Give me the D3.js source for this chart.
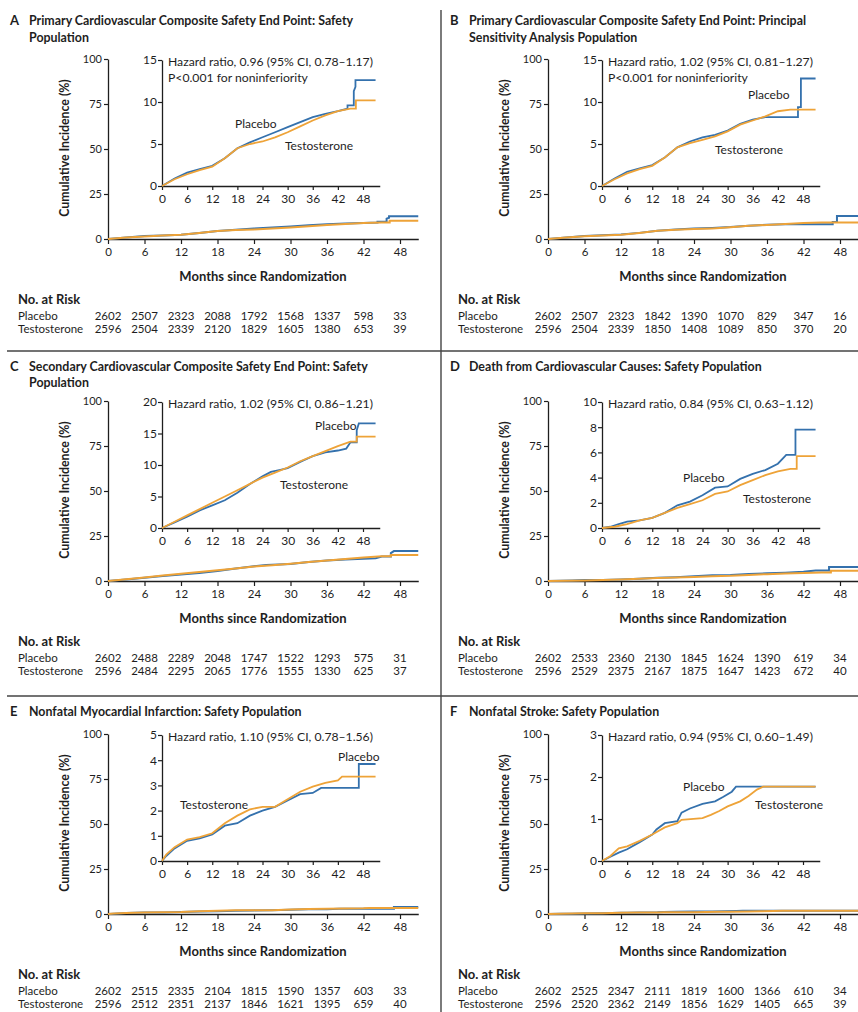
<!DOCTYPE html>
<html><head><meta charset="utf-8">
<script src="https://cdn.jsdelivr.net/npm/d3@7"></script>
<style>
body{margin:0;background:#fff;}
svg{display:block;font-family:Lato,"Open Sans",sans-serif;}
</style></head><body>
<svg id="chart" width="858" height="1012"></svg>
<script>
// ---------- DATA ----------
const monthTicks = [0, 6, 12, 18, 24, 30, 36, 42, 48];
const mainYTicks = [0, 25, 50, 75, 100];
const panelLetters = ["A", "B", "C", "D", "E", "F"];
const panelTitles = [
  ["Primary Cardiovascular Composite Safety End Point: Safety", "Population"],
  ["Primary Cardiovascular Composite Safety End Point: Principal", "Sensitivity Analysis Population"],
  ["Secondary Cardiovascular Composite Safety End Point: Safety", "Population"],
  ["Death from Cardiovascular Causes: Safety Population"],
  ["Nonfatal Myocardial Infarction: Safety Population"],
  ["Nonfatal Stroke: Safety Population"]
];
const hazardTexts = [
  ["Hazard ratio, 0.96 (95% CI, 0.78\u20131.17)", "P<0.001 for noninferiority"],
  ["Hazard ratio, 1.02 (95% CI, 0.81\u20131.27)", "P<0.001 for noninferiority"],
  ["Hazard ratio, 1.02 (95% CI, 0.86\u20131.21)"],
  ["Hazard ratio, 0.84 (95% CI, 0.63\u20131.12)"],
  ["Hazard ratio, 1.10 (95% CI, 0.78\u20131.56)"],
  ["Hazard ratio, 0.94 (95% CI, 0.60\u20131.49)"]
];
const insetYTicks = [
  [0, 5, 10, 15],
  [0, 5, 10, 15],
  [0, 5, 10, 15, 20],
  [0, 2, 4, 6, 8, 10],
  [0, 1, 2, 3, 4, 5],
  [0, 1, 2, 3]
];
const seriesNames = ["Placebo", "Testosterone"];

// No. at risk
const riskPlaceboA = [2602, 2507, 2323, 2088, 1792, 1568, 1337, 598, 33];
const riskTestosteroneA = [2596, 2504, 2339, 2120, 1829, 1605, 1380, 653, 39];
const riskPlaceboB = [2602, 2507, 2323, 1842, 1390, 1070, 829, 347, 16];
const riskTestosteroneB = [2596, 2504, 2339, 1850, 1408, 1089, 850, 370, 20];
const riskPlaceboC = [2602, 2488, 2289, 2048, 1747, 1522, 1293, 575, 31];
const riskTestosteroneC = [2596, 2484, 2295, 2065, 1776, 1555, 1330, 625, 37];
const riskPlaceboD = [2602, 2533, 2360, 2130, 1845, 1624, 1390, 619, 34];
const riskTestosteroneD = [2596, 2529, 2375, 2167, 1875, 1647, 1423, 672, 40];
const riskPlaceboE = [2602, 2515, 2335, 2104, 1815, 1590, 1357, 603, 33];
const riskTestosteroneE = [2596, 2512, 2351, 2137, 1846, 1621, 1395, 659, 40];
const riskPlaceboF = [2602, 2525, 2347, 2111, 1819, 1600, 1366, 610, 34];
const riskTestosteroneF = [2596, 2520, 2362, 2149, 1856, 1629, 1405, 665, 39];

// Cumulative incidence (%) [month, value]
const placeboA = [[0,0],[1,0.3],[3,0.9],[6,1.6],[9,2.0],[12,2.4],[15,3.3],[18,4.5],[21,5.2],[24,5.8],[27,6.4],[30,7.0],[33,7.6],[36,8.2],[39,8.6],[42,8.9],[44.3,9.2],[44.3,9.6],[45.8,9.6],[45.8,11.3],[46.2,11.8],[46.2,12.6],[51,12.6]];
const testosteroneA = [[0,0],[3,0.8],[6,1.4],[9,1.9],[12,2.3],[15,3.3],[18,4.5],[21,5.0],[24,5.3],[27,5.8],[30,6.4],[33,7.1],[36,7.8],[39,8.4],[42,8.9],[45,9.2],[46.3,9.2],[46.3,10.2],[51,10.2]];
const placeboB = [[0,0],[3,0.9],[6,1.7],[9,2.1],[12,2.5],[15,3.4],[18,4.6],[21,5.3],[24,5.8],[27,6.1],[30,6.6],[33,7.4],[36,7.9],[39,8.2],[46.8,8.2],[46.8,9.4],[47.5,9.4],[47.5,12.8],[51,12.8]];
const testosteroneB = [[0,0],[3,0.8],[6,1.5],[9,2.0],[12,2.4],[15,3.4],[18,4.6],[21,5.1],[24,5.5],[27,5.9],[30,6.5],[33,7.3],[36,7.8],[39,8.3],[42,8.9],[45,9.1],[51,9.1]];
const placeboC = [[0,0],[3,0.9],[6,1.8],[9,2.8],[12,3.6],[15,4.4],[18,5.6],[21,7.0],[24,8.2],[26,8.9],[28,9.2],[30,9.5],[33,10.5],[36,11.4],[39,12.0],[42,12.3],[44,12.6],[45,13.6],[46.5,13.6],[46.5,15.5],[47,16.6],[51,16.6]];
const testosteroneC = [[0,0],[3,1.0],[6,2.0],[9,3.0],[12,4.0],[15,5.0],[18,6.0],[21,7.0],[24,8.0],[27,8.8],[30,9.6],[33,10.6],[36,11.4],[39,12.2],[42,13.0],[45,13.7],[46.5,13.7],[46.5,14.5],[51,14.5]];
const placeboD = [[0,0],[2,0.1],[4,0.3],[6,0.5],[9,0.6],[12,0.8],[15,1.2],[18,1.8],[21,2.1],[24,2.6],[27,3.2],[30,3.3],[33,3.9],[36,4.3],[39,4.6],[42,5.1],[44,5.8],[46.2,5.8],[46.2,7.8],[51,7.8]];
const testosteroneD = [[0,0],[3,0.1],[6,0.3],[9,0.6],[12,0.8],[15,1.2],[18,1.6],[21,1.9],[24,2.2],[27,2.7],[30,2.9],[33,3.4],[36,3.8],[39,4.2],[42,4.5],[45,4.7],[46.5,4.7],[46.5,5.7],[51,5.7]];
const placeboE = [[0,0],[1,0.2],[3,0.5],[6,0.8],[9,0.9],[12,1.05],[15,1.4],[18,1.5],[21,1.8],[24,2.0],[27,2.15],[30,2.4],[33,2.65],[36,2.7],[38,2.9],[47,2.9],[47,3.85],[51,3.85]];
const testosteroneE = [[0,0],[1,0.25],[3,0.55],[6,0.85],[9,0.95],[12,1.1],[15,1.5],[18,1.8],[21,2.05],[24,2.15],[27,2.15],[30,2.45],[33,2.75],[36,2.95],[39,3.1],[42,3.2],[43,3.35],[51,3.35]];
const placeboF = [[0,0],[2,0.1],[4,0.2],[6,0.28],[9,0.45],[12,0.63],[13,0.75],[15,0.9],[18,0.95],[19,1.15],[21,1.25],[24,1.36],[27,1.42],[29,1.53],[31,1.65],[32,1.77],[51,1.77]];
const testosteroneF = [[0,0],[2,0.12],[4,0.3],[6,0.35],[9,0.48],[12,0.63],[15,0.8],[18,0.9],[19,0.98],[24,1.02],[26,1.1],[28,1.19],[30,1.3],[33,1.42],[35,1.55],[37,1.7],[38.5,1.77],[51,1.77]];

const placeboSeries = [placeboA, placeboB, placeboC, placeboD, placeboE, placeboF];
const testosteroneSeries = [testosteroneA, testosteroneB, testosteroneC, testosteroneD, testosteroneE, testosteroneF];
const riskPlacebo = [riskPlaceboA, riskPlaceboB, riskPlaceboC, riskPlaceboD, riskPlaceboE, riskPlaceboF];
const riskTestosterone = [riskTestosteroneA, riskTestosteroneB, riskTestosteroneC, riskTestosteroneD, riskTestosteroneE, riskTestosteroneF];

// ---------- LAYOUT ----------
const COL_BLUE = "#3471ad";
const COL_ORANGE = "#eea338";
const INK = "#1e1e1e";
const layout = [
  {dx:0,   dy:0,   tY:[25,42], pl:[235,128], te:[285,150]},
  {dx:440, dy:0,   tY:[25,42], pl:[308,99],  te:[275,154]},
  {dx:0,   dy:342, tY:[29,45], pl:[315,88],  te:[280,147]},
  {dx:440, dy:342, tY:[29],    pl:[243,140], te:[303,161]},
  {dx:0,   dy:675, tY:[41],    pl:[338,86],  te:[180,134]},
  {dx:440, dy:675, tY:[41],    pl:[243,116], te:[315,134]}
];

const svg = d3.select("#chart");

// separators
svg.append("line").attr("x1",441).attr("x2",441).attr("y1",10).attr("y2",1012)
  .attr("stroke","#444").attr("stroke-width",1.4);
[351, 696].forEach(yy => svg.append("line").attr("x1",7).attr("x2",858).attr("y1",yy).attr("y2",yy)
  .attr("stroke","#444").attr("stroke-width",1.4));

function styleAxis(sel, fs) {
  sel.selectAll("path.domain").attr("stroke", INK).attr("stroke-width", 1.3);
  sel.selectAll(".tick line").attr("stroke", INK).attr("stroke-width", 1.2);
  sel.selectAll(".tick text").attr("fill", INK).style("font-size", fs + "px").style("font-family", "Lato, sans-serif");
}
const fmt = d3.format("d");

panelLetters.forEach((letter, i) => {
  const L = layout[i];
  const g = svg.append("g").attr("transform", `translate(${L.dx},${L.dy})`);

  // title
  g.append("text").attr("x", 10).attr("y", L.tY[0]).text(letter)
    .attr("fill", INK).style("font-weight", "bold").style("font-size", "13px");
  panelTitles[i].forEach((t, k) => {
    g.append("text").attr("x", 29).attr("y", L.tY[k]).text(t)
      .attr("fill", INK).style("font-weight", "bold").style("font-size", "12.4px");
  });

  // main scales
  const x = d3.scaleLinear().domain([0, 51]).range([108, 108 + 51 * (292 / 48)]);
  const y = d3.scaleLinear().domain([0, 100]).range([239, 59]);

  const gx = g.append("g").attr("transform", "translate(0,239)")
    .call(d3.axisBottom(x).tickValues(monthTicks).tickFormat(fmt).tickSize(5).tickPadding(4).tickSizeOuter(0));
  styleAxis(gx, 11.5);
  const gy = g.append("g").attr("transform", "translate(108,0)")
    .call(d3.axisLeft(y).tickValues(mainYTicks).tickFormat(fmt).tickSize(4).tickPadding(2).tickSizeOuter(0));
  styleAxis(gy, 11);

  g.append("text").attr("transform", "translate(69,148) rotate(-90)").attr("text-anchor", "middle")
    .text("Cumulative Incidence (%)").attr("fill", INK).style("font-weight", "bold").style("font-size", "12.3px");
  g.append("text").attr("x", 263).attr("y", 281).attr("text-anchor", "middle")
    .text("Months since Randomization").attr("fill", INK).style("font-weight", "bold").style("font-size", "13px");

  const line = d3.line().x(d => x(d[0])).y(d => y(d[1]));
  g.append("path").datum(placeboSeries[i]).attr("d", line).attr("fill", "none")
    .attr("stroke", COL_BLUE).attr("stroke-width", 2);
  g.append("path").datum(testosteroneSeries[i]).attr("d", line).attr("fill", "none")
    .attr("stroke", COL_ORANGE).attr("stroke-width", 2);

  // inset
  const imax = d3.max(insetYTicks[i]);
  const xi = d3.scaleLinear().domain([0, 52]).range([162, 162 + 52 * (201 / 48)]);
  const yi = d3.scaleLinear().domain([0, imax]).range([186, 60]);
  const gxi = g.append("g").attr("transform", "translate(0,186)")
    .call(d3.axisBottom(xi).tickValues(monthTicks).tickFormat(fmt).tickSize(4).tickPadding(4).tickSizeOuter(0));
  styleAxis(gxi, 12);
  const gyi = g.append("g").attr("transform", "translate(162,0)")
    .call(d3.axisLeft(yi).tickValues(insetYTicks[i]).tickFormat(fmt).tickSize(4).tickPadding(1).tickSizeOuter(0));
  styleAxis(gyi, 12);

  const iline = d3.line().x(d => xi(d[0])).y(d => yi(d[1]));
  g.append("path").datum(placeboSeries[i]).attr("d", iline).attr("fill", "none")
    .attr("stroke", COL_BLUE).attr("stroke-width", 1.8);
  g.append("path").datum(testosteroneSeries[i]).attr("d", iline).attr("fill", "none")
    .attr("stroke", COL_ORANGE).attr("stroke-width", 1.8);

  hazardTexts[i].forEach((t, k) => {
    g.append("text").attr("x", 168).attr("y", 66 + 16 * k).text(t)
      .attr("fill", INK).style("font-size", "12.2px");
  });
  g.append("text").attr("x", L.pl[0]).attr("y", L.pl[1]).text(seriesNames[0])
    .attr("fill", INK).style("font-size", "12px");
  g.append("text").attr("x", L.te[0]).attr("y", L.te[1]).text(seriesNames[1])
    .attr("fill", INK).style("font-size", "12px");

  // at risk table
  g.append("text").attr("x", 18).attr("y", 304).text("No. at Risk")
    .attr("fill", INK).style("font-weight", "bold").style("font-size", "13px");
  [riskPlacebo[i], riskTestosterone[i]].forEach((row, r) => {
    const yy = 319.5 + 13.5 * r;
    g.append("text").attr("x", 18).attr("y", yy).text(seriesNames[r])
      .attr("fill", INK).style("font-size", "11.5px");
    g.selectAll(null).data(row).enter().append("text")
      .attr("x", (d, j) => x(monthTicks[j])).attr("y", yy).attr("text-anchor", "middle")
      .text(d => d).attr("fill", INK).style("font-size", "11.5px");
  });
});
</script>
</body></html>
